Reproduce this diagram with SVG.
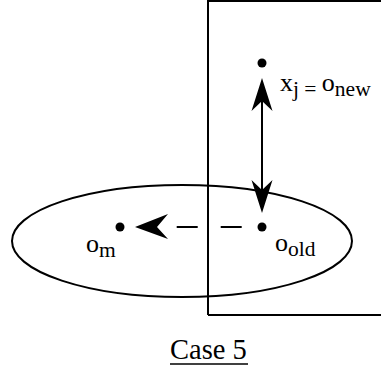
<svg xmlns="http://www.w3.org/2000/svg" width="381" height="373" viewBox="0 0 381 373">
<style>
.ln{stroke:#000;stroke-width:2;fill:none}
.ah{fill:#000;stroke:none}
.t{font-family:"Liberation Serif","Times New Roman",serif;fill:#000}
.m{font-size:26px}
.s{font-size:21.5px}
</style>
<rect width="381" height="373" fill="#fff"/>
<g id="region">
<path class="ln" d="M208 315 V1 H381"/>
<path class="ln" d="M208 315 H381"/>
</g>
<g id="cluster">
<ellipse class="ln" cx="182" cy="241" rx="170" ry="56"/>
</g>
<g id="onew">
<circle cx="262" cy="63" r="4.5"/>
<text class="t" x="280" y="91"><tspan class="m">x</tspan><tspan class="s" dy="5">j = </tspan><tspan class="m" dy="-5">o</tspan><tspan class="s" dy="5">new</tspan></text>
</g>
<g id="oold">
<circle cx="262" cy="227" r="4.5"/>
<text class="t" x="275" y="251"><tspan class="m">o</tspan><tspan class="s" dy="5">old</tspan></text>
</g>
<g id="om">
<circle cx="120" cy="227" r="4.5"/>
<text class="t" x="86" y="252"><tspan class="m">o</tspan><tspan class="s" dy="5">m</tspan></text>
</g>
<g id="connectors">
<line class="ln" x1="262" y1="95" x2="262" y2="196"/>
<path class="ah" d="M262 78 L272.5 111 L262 101 L251.5 111 Z"/>
<path class="ah" d="M262 213 L272.5 180 L262 190 L251.5 180 Z"/>
<line class="ln" x1="241.7" y1="227" x2="168" y2="227" stroke-dasharray="21 23"/>
<path class="ah" d="M135 227 L168 214 L157 227 L168 239 Z"/>
</g>
<g id="caption">
<text class="t" x="170" y="359" font-size="28.5">Case 5</text>
<line x1="170" y1="364" x2="248" y2="364" stroke="#000" stroke-width="1.5"/>
</g>
</svg>
